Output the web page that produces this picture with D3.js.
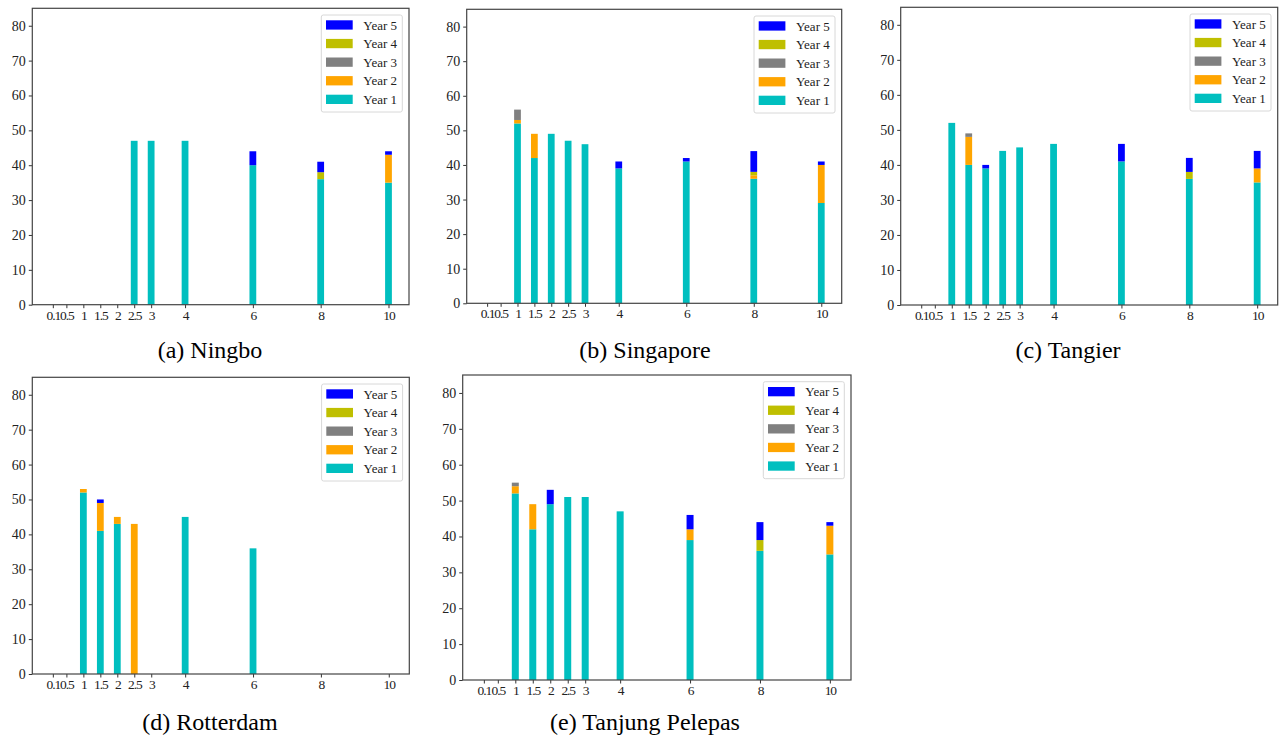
<!DOCTYPE html>
<html>
<head>
<meta charset="utf-8">
<script src="https://cdn.jsdelivr.net/npm/d3@7"></script>
<style>
  body { margin: 0; background: #fff; }
  svg text { font-family: "Liberation Serif", "DejaVu Serif", serif; }
</style>
</head>
<body>
<script>
// x categories (bar positions on a linear axis)
var xValues = [0.1, 0.5, 1, 1.5, 2, 2.5, 3, 4, 6, 8, 10];
var xTickLabels = ['0.1', '0.5', '1', '1.5', '2', '2.5', '3', '4', '6', '8', '10'];
var yTicks = [0, 10, 20, 30, 40, 50, 60, 70, 80];
var yearNames = ['Year 1', 'Year 2', 'Year 3', 'Year 4', 'Year 5'];
var yearColors = ['#00bfbf', '#ffa500', '#808080', '#bfbf00', '#0000ff'];

// per port, one array per year, same order as xValues
var ningbo = [
  [0, 0, 0, 0, 0, 47, 47, 47, 40, 36, 35],
  [0, 0, 0, 0, 0, 0, 0, 0, 0, 0, 8],
  [0, 0, 0, 0, 0, 0, 0, 0, 0, 0, 0],
  [0, 0, 0, 0, 0, 0, 0, 0, 0, 2, 0],
  [0, 0, 0, 0, 0, 0, 0, 0, 4, 3, 1]
];
var singapore = [
  [0, 0, 52, 42, 49, 47, 46, 39, 41, 36, 29],
  [0, 0, 1, 7, 0, 0, 0, 0, 0, 1, 11],
  [0, 0, 3, 0, 0, 0, 0, 0, 0, 0, 0],
  [0, 0, 0, 0, 0, 0, 0, 0, 0, 1, 0],
  [0, 0, 0, 0, 0, 0, 0, 2, 1, 6, 1]
];
var tangier = [
  [0, 0, 52, 40, 39, 44, 45, 46, 41, 36, 35],
  [0, 0, 0, 8, 0, 0, 0, 0, 0, 0, 4],
  [0, 0, 0, 1, 0, 0, 0, 0, 0, 0, 0],
  [0, 0, 0, 0, 0, 0, 0, 0, 0, 2, 0],
  [0, 0, 0, 0, 1, 0, 0, 0, 5, 4, 5]
];
var rotterdam = [
  [0, 0, 52, 41, 43, 0, 0, 45, 36, 0, 0],
  [0, 0, 1, 8, 2, 43, 0, 0, 0, 0, 0],
  [0, 0, 0, 0, 0, 0, 0, 0, 0, 0, 0],
  [0, 0, 0, 0, 0, 0, 0, 0, 0, 0, 0],
  [0, 0, 0, 1, 0, 0, 0, 0, 0, 0, 0]
];
var tanjungPelepas = [
  [0, 0, 52, 42, 49, 51, 51, 47, 39, 36, 35],
  [0, 0, 2, 7, 0, 0, 0, 0, 3, 0, 8],
  [0, 0, 1, 0, 0, 0, 0, 0, 0, 0, 0],
  [0, 0, 0, 0, 0, 0, 0, 0, 0, 3, 0],
  [0, 0, 0, 0, 4, 0, 0, 0, 4, 5, 1]
];

// panel boxes in page pixels, and caption positions
var panels = [
  {data: ningbo, caption: '(a) Ningbo', box: [32.3, 409, 8.3, 304.7], cap: [210, 358]},
  {data: singapore, caption: '(b) Singapore', box: [466.7, 841.7, 9.3, 303.3], cap: [645, 358]},
  {data: tangier, caption: '(c) Tangier', box: [900.7, 1277.7, 7.3, 305], cap: [1068, 358]},
  {data: rotterdam, caption: '(d) Rotterdam', box: [32.3, 409.3, 377.3, 674], cap: [210, 730]},
  {data: tanjungPelepas, caption: '(e) Tanjung Pelepas', box: [462.7, 851, 375, 680], cap: [645, 730]}
];

var barWidth = 0.2;
var svg = d3.select('body').append('svg').attr('width', 1286).attr('height', 738);

panels.forEach(function(p) {
  var x = d3.scaleLinear().domain([-0.505, 10.605]).range([p.box[0], p.box[1]]);
  var y = d3.scaleLinear().domain([0, 85]).range([p.box[3], p.box[2]]);
  var g = svg.append('g');

  // stacked rows
  var rows = xValues.map(function(v, i) {
    var r = {x: v};
    yearNames.forEach(function(n, k) { r[n] = p.data[k][i]; });
    return r;
  });
  var stacked = d3.stack().keys(yearNames)(rows);

  stacked.forEach(function(layer, k) {
    g.append('g').attr('fill', yearColors[k])
      .selectAll('rect').data(layer.filter(function(d) { return d[1] > d[0]; }))
      .enter().append('rect')
      .attr('x', function(d) { return x(d.data.x - barWidth / 2); })
      .attr('width', x(barWidth) - x(0))
      .attr('y', function(d) { return y(d[1]); })
      .attr('height', function(d) { return y(d[0]) - y(d[1]); });
  });

  // axes
  var xAxis = d3.axisBottom(x).tickValues(xValues)
    .tickFormat(function(d, i) { return xTickLabels[i]; }).tickSize(3.5).tickPadding(2);
  var yAxis = d3.axisLeft(y).tickValues(yTicks).tickSize(3.5).tickPadding(3);

  var gx = g.append('g').attr('transform', 'translate(0,' + p.box[3] + ')').call(xAxis);
  var gy = g.append('g').attr('transform', 'translate(' + p.box[0] + ',0)').call(yAxis);
  [gx, gy].forEach(function(a) {
    a.select('.domain').remove();
    a.selectAll('line').attr('stroke', '#333');
    a.selectAll('text').attr('fill', '#222').style('font-size', '14px')
      .style('font-family', '"Liberation Serif", serif');
  });
  gx.selectAll('text').style('font-size', '13.5px').attr('letter-spacing', '-1.1px');

  // frame
  g.append('rect')
    .attr('x', p.box[0]).attr('y', p.box[2])
    .attr('width', p.box[1] - p.box[0]).attr('height', p.box[3] - p.box[2])
    .attr('fill', 'none').attr('stroke', '#444').attr('stroke-width', 1.2);

  // legend, top right
  var lg = g.append('g').attr('transform', 'translate(' + (p.box[1] - 6.7 - 81) + ',' + (p.box[2] + 6.7) + ')');
  lg.append('rect').attr('width', 81).attr('height', 97).attr('rx', 2)
    .attr('fill', '#fff').attr('stroke', '#d8d8d8').attr('stroke-width', 1);
  var order = [4, 3, 2, 1, 0];
  order.forEach(function(k, i) {
    var cy = 10 + i * 18.6;
    lg.append('rect').attr('x', 4.7).attr('y', cy - 4.7).attr('width', 26.7).attr('height', 9.3)
      .attr('fill', yearColors[k]);
    lg.append('text').attr('x', 42).attr('y', cy).attr('dy', '0.35em')
      .style('font-size', '13px').attr('fill', '#222').text(yearNames[k]);
  });

  // caption
  svg.append('text').attr('x', p.cap[0]).attr('y', p.cap[1])
    .attr('text-anchor', 'middle').style('font-size', '24px').attr('fill', '#000')
    .text(p.caption);
});
</script>
</body>
</html>
